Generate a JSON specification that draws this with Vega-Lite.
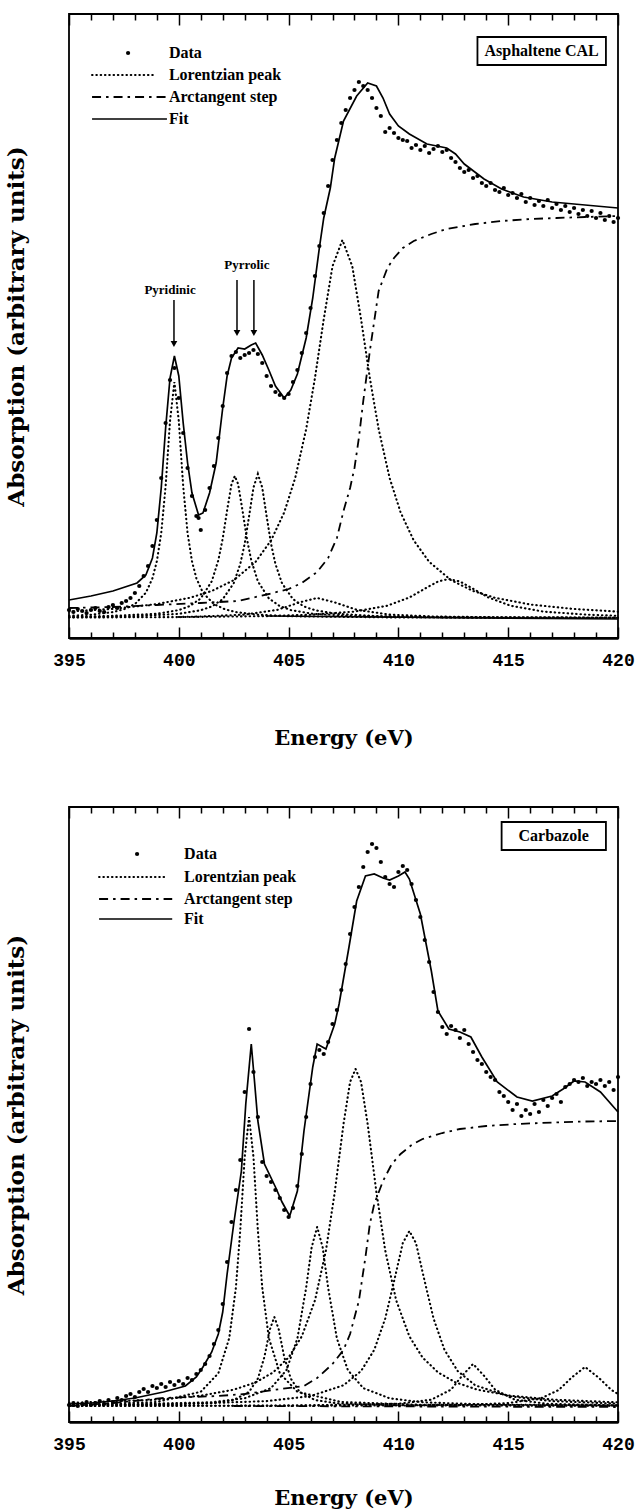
{
"$schema": "https://vega.github.io/schema/vega-lite/v6.json",
"padding": {"left": 4, "top": 12, "right": 0, "bottom": 0},
"spacing": 56,
"config": {"view": {"stroke": "#000", "strokeWidth": 1.8}, "axis": {"grid": false, "tickColor": "#000", "domainColor": "#000", "labelColor": "#000", "titleColor": "#000", "tickWidth": 1.5}},
"datasets": {
"tLor": [
{"p":"L1","E":395,"h":22.1},{"p":"L1","E":396,"h":23.3},{"p":"L1","E":397,"h":25.9},{"p":"L1","E":397.5,"h":28.7},{"p":"L1","E":398,"h":33.9},{"p":"L1","E":398.5,"h":45.2},{"p":"L1","E":398.8,"h":59.7},{"p":"L1","E":399.0,"h":76.7},{"p":"L1","E":399.2,"h":104.9},{"p":"L1","E":399.4,"h":151.8},{"p":"L1","E":399.6,"h":217},{"p":"L1","E":399.8,"h":256},{"p":"L1","E":400.0,"h":217},{"p":"L1","E":400.2,"h":151.8},{"p":"L1","E":400.4,"h":104.9},{"p":"L1","E":400.6,"h":76.7},{"p":"L1","E":400.8,"h":59.7},{"p":"L1","E":401.1,"h":45.2},{"p":"L1","E":401.6,"h":33.9},{"p":"L1","E":402.1,"h":28.7},{"p":"L1","E":402.6,"h":25.9},{"p":"L1","E":403.6,"h":23.3},{"p":"L1","E":405,"h":21.8},{"p":"L1","E":410,"h":20.5},{"p":"L1","E":420,"h":20.1},
{"p":"L2","E":395,"h":21},{"p":"L2","E":397,"h":22.2},{"p":"L2","E":399,"h":24.2},{"p":"L2","E":400,"h":27.9},{"p":"L2","E":400.5,"h":31.9},{"p":"L2","E":401,"h":39.6},{"p":"L2","E":401.5,"h":56.7},{"p":"L2","E":401.8,"h":77.7},{"p":"L2","E":402.0,"h":99.5},{"p":"L2","E":402.2,"h":127.7},{"p":"L2","E":402.4,"h":154},{"p":"L2","E":402.55,"h":162},{"p":"L2","E":402.7,"h":154},{"p":"L2","E":402.9,"h":127.7},{"p":"L2","E":403.1,"h":99.5},{"p":"L2","E":403.3,"h":77.7},{"p":"L2","E":403.6,"h":56.7},{"p":"L2","E":404.1,"h":39.6},{"p":"L2","E":404.6,"h":31.9},{"p":"L2","E":405.1,"h":27.9},{"p":"L2","E":406.1,"h":24.2},{"p":"L2","E":408,"h":21.8},{"p":"L2","E":412,"h":20.6},{"p":"L2","E":420,"h":20.2},
{"p":"L3","E":395,"h":20.7},{"p":"L3","E":398,"h":21.7},{"p":"L3","E":400,"h":24.2},{"p":"L3","E":401,"h":27.8},{"p":"L3","E":401.5,"h":31.5},{"p":"L3","E":402,"h":38.8},{"p":"L3","E":402.5,"h":54.7},{"p":"L3","E":402.8,"h":74.1},{"p":"L3","E":403.0,"h":94.3},{"p":"L3","E":403.2,"h":121.7},{"p":"L3","E":403.4,"h":150.4},{"p":"L3","E":403.6,"h":164},{"p":"L3","E":403.8,"h":150.4},{"p":"L3","E":404.0,"h":121.7},{"p":"L3","E":404.2,"h":94.3},{"p":"L3","E":404.4,"h":74.1},{"p":"L3","E":404.7,"h":54.7},{"p":"L3","E":405.2,"h":38.8},{"p":"L3","E":405.7,"h":31.5},{"p":"L3","E":406.2,"h":27.8},{"p":"L3","E":407.2,"h":24.2},{"p":"L3","E":409,"h":21.9},{"p":"L3","E":413,"h":20.6},{"p":"L3","E":420,"h":20.2},
{"p":"L4","E":395,"h":26.5},{"p":"L4","E":397,"h":29.2},{"p":"L4","E":399,"h":33.9},{"p":"L4","E":400.5,"h":40.2},{"p":"L4","E":401.5,"h":47.0},{"p":"L4","E":402.5,"h":57.8},{"p":"L4","E":403.5,"h":76.2},{"p":"L4","E":404.2,"h":97.5},{"p":"L4","E":404.8,"h":125.6},{"p":"L4","E":405.3,"h":160},{"p":"L4","E":405.8,"h":209},{"p":"L4","E":406.2,"h":260},{"p":"L4","E":406.6,"h":318.8},{"p":"L4","E":407.0,"h":371.8},{"p":"L4","E":407.45,"h":398},{"p":"L4","E":407.9,"h":371.8},{"p":"L4","E":408.3,"h":318.8},{"p":"L4","E":408.7,"h":260},{"p":"L4","E":409.1,"h":209},{"p":"L4","E":409.6,"h":160},{"p":"L4","E":410.1,"h":125.6},{"p":"L4","E":410.7,"h":97.5},{"p":"L4","E":411.4,"h":76.2},{"p":"L4","E":412.4,"h":57.8},{"p":"L4","E":413.4,"h":47.0},{"p":"L4","E":414.4,"h":40.2},{"p":"L4","E":416.0,"h":33.5},{"p":"L4","E":418.0,"h":29.0},{"p":"L4","E":420,"h":26.4},
{"p":"L5","E":395,"h":20.5},{"p":"L5","E":400,"h":20.9},{"p":"L5","E":404,"h":21.9},{"p":"L5","E":406,"h":23.3},{"p":"L5","E":408,"h":26.4},{"p":"L5","E":409.5,"h":32.3},{"p":"L5","E":410.5,"h":40.5},{"p":"L5","E":411.3,"h":50.5},{"p":"L5","E":411.8,"h":56.5},{"p":"L5","E":412.3,"h":59},{"p":"L5","E":412.8,"h":56.5},{"p":"L5","E":413.3,"h":50.5},{"p":"L5","E":414.1,"h":40.5},{"p":"L5","E":415.1,"h":32.3},{"p":"L5","E":416.6,"h":26.4},{"p":"L5","E":418.6,"h":23.3},{"p":"L5","E":420,"h":22.2},
{"p":"L6","E":400,"h":21.0},{"p":"L6","E":401,"h":21.5},{"p":"L6","E":403,"h":23.4},{"p":"L6","E":404.5,"h":28.2},{"p":"L6","E":405.5,"h":35.6},{"p":"L6","E":406.3,"h":40},{"p":"L6","E":407.1,"h":35.6},{"p":"L6","E":408.1,"h":28.2},{"p":"L6","E":409.6,"h":23.4},{"p":"L6","E":411.6,"h":21.5},{"p":"L6","E":415,"h":20.6},{"p":"L6","E":420,"h":20.2},
{"p":"leg","E":396.05,"h":563},{"p":"leg","E":398.92,"h":563}
],
"tArc": [
{"g":"a","E":395,"h":30},{"g":"a","E":397,"h":31},{"g":"a","E":399,"h":33},{"g":"a","E":401,"h":35},{"g":"a","E":402.7,"h":37},{"g":"a","E":404.1,"h":44},{"g":"a","E":405.0,"h":49},{"g":"a","E":405.6,"h":55},{"g":"a","E":406.3,"h":66},{"g":"a","E":406.8,"h":80},{"g":"a","E":407.2,"h":100},{"g":"a","E":407.5,"h":127},{"g":"a","E":407.8,"h":150},{"g":"a","E":408.0,"h":170},{"g":"a","E":408.2,"h":200},{"g":"a","E":408.4,"h":237},{"g":"a","E":408.7,"h":287},{"g":"a","E":409.1,"h":347},{"g":"a","E":409.5,"h":370},{"g":"a","E":409.8,"h":380},{"g":"a","E":410.2,"h":390},{"g":"a","E":410.7,"h":397},{"g":"a","E":411.5,"h":404},{"g":"a","E":412.2,"h":409},{"g":"a","E":413.5,"h":414},{"g":"a","E":414.7,"h":417},{"g":"a","E":416,"h":419},{"g":"a","E":417.2,"h":420},{"g":"a","E":418.5,"h":421},{"g":"a","E":420,"h":422},
{"g":"leg","E":396.05,"h":541},{"g":"leg","E":399.46,"h":541}
],
"tFit": [
{"g":"f","E":395,"h":38},{"g":"f","E":396,"h":42},{"g":"f","E":397,"h":47},{"g":"f","E":398.1,"h":55},{"g":"f","E":398.5,"h":63},{"g":"f","E":398.8,"h":80},{"g":"f","E":399.0,"h":105},{"g":"f","E":399.2,"h":150},{"g":"f","E":399.4,"h":210},{"g":"f","E":399.6,"h":260},{"g":"f","E":399.8,"h":282},{"g":"f","E":400.0,"h":262},{"g":"f","E":400.2,"h":215},{"g":"f","E":400.4,"h":175},{"g":"f","E":400.6,"h":145},{"g":"f","E":400.9,"h":123},{"g":"f","E":401.1,"h":125},{"g":"f","E":401.4,"h":145},{"g":"f","E":401.7,"h":175},{"g":"f","E":402.0,"h":230},{"g":"f","E":402.2,"h":262},{"g":"f","E":402.4,"h":280},{"g":"f","E":402.7,"h":290},{"g":"f","E":403.0,"h":289},{"g":"f","E":403.3,"h":293},{"g":"f","E":403.5,"h":295},{"g":"f","E":403.8,"h":283},{"g":"f","E":404.1,"h":268},{"g":"f","E":404.4,"h":252},{"g":"f","E":404.8,"h":240},{"g":"f","E":405.1,"h":248},{"g":"f","E":405.4,"h":264},{"g":"f","E":405.8,"h":300},{"g":"f","E":406.1,"h":340},{"g":"f","E":406.4,"h":390},{"g":"f","E":406.6,"h":420},{"g":"f","E":406.9,"h":450},{"g":"f","E":407.1,"h":480},{"g":"f","E":407.5,"h":517},{"g":"f","E":408.1,"h":542},{"g":"f","E":408.6,"h":555},{"g":"f","E":409.0,"h":552},{"g":"f","E":409.3,"h":540},{"g":"f","E":409.6,"h":524},{"g":"f","E":410.0,"h":512},{"g":"f","E":410.5,"h":504},{"g":"f","E":411.3,"h":494},{"g":"f","E":412.2,"h":490},{"g":"f","E":412.6,"h":484},{"g":"f","E":413.0,"h":474},{"g":"f","E":413.9,"h":459},{"g":"f","E":414.7,"h":449},{"g":"f","E":415.7,"h":441},{"g":"f","E":417.0,"h":436},{"g":"f","E":418.0,"h":434},{"g":"f","E":419.0,"h":432},{"g":"f","E":420,"h":430},
{"g":"bg","E":404,"h":22},{"g":"bg","E":420,"h":19},
{"g":"leg","E":396.05,"h":519},{"g":"leg","E":399.46,"h":519}
],
"tPts": [
{"E":395.0,"h":28},{"E":395.2,"h":26},{"E":395.4,"h":29},{"E":395.6,"h":27},{"E":395.8,"h":25},{"E":396.0,"h":28},{"E":396.2,"h":30},{"E":396.4,"h":27},{"E":396.6,"h":26},{"E":396.8,"h":31},{"E":397.0,"h":33},{"E":397.2,"h":30},{"E":397.4,"h":35},{"E":397.6,"h":37},{"E":397.8,"h":40},{"E":398.0,"h":45},{"E":398.2,"h":52},{"E":398.4,"h":62},{"E":398.6,"h":72},{"E":398.8,"h":92},{"E":399.0,"h":118},{"E":399.2,"h":160},{"E":399.4,"h":215},{"E":399.6,"h":258},{"E":399.8,"h":270},{"E":400.0,"h":240},{"E":400.2,"h":205},{"E":400.4,"h":170},{"E":400.6,"h":142},{"E":400.8,"h":122},{"E":400.9,"h":120},{"E":401.0,"h":108},{"E":401.2,"h":128},{"E":401.4,"h":150},{"E":401.6,"h":172},{"E":401.8,"h":200},{"E":402.0,"h":232},{"E":402.2,"h":265},{"E":402.4,"h":282},{"E":402.6,"h":286},{"E":402.8,"h":280},{"E":403.0,"h":283},{"E":403.2,"h":285},{"E":403.4,"h":288},{"E":403.6,"h":284},{"E":403.8,"h":275},{"E":404.0,"h":262},{"E":404.2,"h":252},{"E":404.4,"h":246},{"E":404.6,"h":243},{"E":404.8,"h":240},{"E":405.0,"h":244},{"E":405.2,"h":256},{"E":405.4,"h":268},{"E":405.6,"h":285},{"E":405.8,"h":305},{"E":406.0,"h":330},{"E":406.2,"h":362},{"E":406.4,"h":392},{"E":406.6,"h":425},{"E":406.8,"h":452},{"E":407.0,"h":478},{"E":407.2,"h":498},{"E":407.4,"h":515},{"E":407.6,"h":528},{"E":407.8,"h":540},{"E":408.0,"h":548},{"E":408.2,"h":556},{"E":408.4,"h":552},{"E":408.6,"h":548},{"E":408.8,"h":540},{"E":409.0,"h":530},{"E":409.2,"h":522},{"E":409.4,"h":506},{"E":409.6,"h":510},{"E":409.8,"h":505},{"E":410.0,"h":500},{"E":410.2,"h":498},{"E":410.4,"h":497},{"E":410.6,"h":490},{"E":410.8,"h":493},{"E":411.0,"h":488},{"E":411.2,"h":492},{"E":411.4,"h":485},{"E":411.6,"h":489},{"E":411.8,"h":492},{"E":412.0,"h":486},{"E":412.2,"h":488},{"E":412.4,"h":480},{"E":412.6,"h":476},{"E":412.8,"h":470},{"E":413.0,"h":466},{"E":413.2,"h":468},{"E":413.4,"h":460},{"E":413.6,"h":462},{"E":413.8,"h":455},{"E":414.0,"h":452},{"E":414.2,"h":455},{"E":414.4,"h":448},{"E":414.6,"h":446},{"E":414.8,"h":450},{"E":415.0,"h":443},{"E":415.2,"h":445},{"E":415.4,"h":440},{"E":415.6,"h":444},{"E":415.8,"h":436},{"E":416.0,"h":440},{"E":416.2,"h":433},{"E":416.4,"h":437},{"E":416.6,"h":432},{"E":416.8,"h":438},{"E":417.0,"h":430},{"E":417.2,"h":434},{"E":417.4,"h":428},{"E":417.6,"h":432},{"E":417.8,"h":426},{"E":418.0,"h":430},{"E":418.2,"h":424},{"E":418.4,"h":428},{"E":418.6,"h":422},{"E":418.8,"h":427},{"E":419.0,"h":420},{"E":419.2,"h":425},{"E":419.4,"h":418},{"E":419.6,"h":422},{"E":419.8,"h":416},{"E":420.0,"h":420},
{"E":397.69,"h":585}
],
"tLegT": [
{"E":399.55,"h":585,"t":"Data"},{"E":399.55,"h":563,"t":"Lorentzian peak"},{"E":399.55,"h":541,"t":"Arctangent step"},{"E":399.55,"h":519,"t":"Fit"}
],
"tArr": [
{"E":399.78,"h1":338,"h2":296},{"E":402.65,"h1":358,"h2":308},{"E":403.42,"h1":358,"h2":308}
],
"tHead": [
{"E":399.78,"h":294},{"E":402.65,"h":305},{"E":403.42,"h":305}
],
"tAnn": [
{"E":399.6,"h":348,"t":"Pyridinic"},{"E":403.1,"h":373,"t":"Pyrrolic"}
],
"tBox": [
{"E1":413.6,"E2":419.45,"h1":573,"h2":601,"Ec":416.52,"hc":587,"t":"Asphaltene  CAL"}
],
"bLor": [
{"p":"B1","E":395,"h":17.1},{"p":"B1","E":399,"h":20.0},{"p":"B1","E":401,"h":30.2},{"p":"B1","E":401.8,"h":48.7},{"p":"B1","E":402.3,"h":84.2},{"p":"B1","E":402.6,"h":134.4},{"p":"B1","E":402.8,"h":192},{"p":"B1","E":403.0,"h":265},{"p":"B1","E":403.2,"h":305},{"p":"B1","E":403.4,"h":265},{"p":"B1","E":403.6,"h":192},{"p":"B1","E":403.8,"h":134.4},{"p":"B1","E":404.1,"h":84.2},{"p":"B1","E":404.6,"h":48.7},{"p":"B1","E":405.4,"h":30.2},{"p":"B1","E":407.4,"h":20.0},{"p":"B1","E":411,"h":17.2},{"p":"B1","E":420,"h":16.5},
{"p":"B2","E":395,"h":16.5},{"p":"B2","E":399,"h":17.5},{"p":"B2","E":401.5,"h":18.7},{"p":"B2","E":402.5,"h":22},{"p":"B2","E":403.2,"h":30.1},{"p":"B2","E":403.6,"h":43.4},{"p":"B2","E":403.9,"h":65.2},{"p":"B2","E":404.15,"h":92.7},{"p":"B2","E":404.35,"h":105},{"p":"B2","E":404.55,"h":92.7},{"p":"B2","E":404.8,"h":65.2},{"p":"B2","E":405.1,"h":43.4},{"p":"B2","E":405.5,"h":30.1},{"p":"B2","E":406.2,"h":22},{"p":"B2","E":407.2,"h":18.7},{"p":"B2","E":410,"h":16.7},{"p":"B2","E":420,"h":16.2},
{"p":"B3","E":395,"h":16.7},{"p":"B3","E":398,"h":18},{"p":"B3","E":401.5,"h":19.7},{"p":"B3","E":403,"h":23.7},{"p":"B3","E":404.2,"h":33.9},{"p":"B3","E":404.9,"h":51.8},{"p":"B3","E":405.4,"h":83.5},{"p":"B3","E":405.8,"h":134.5},{"p":"B3","E":406.05,"h":174.7},{"p":"B3","E":406.3,"h":195},{"p":"B3","E":406.55,"h":174.7},{"p":"B3","E":406.8,"h":134.5},{"p":"B3","E":407.2,"h":83.5},{"p":"B3","E":407.7,"h":51.8},{"p":"B3","E":408.4,"h":33.9},{"p":"B3","E":409.6,"h":23.7},{"p":"B3","E":411.1,"h":19.7},{"p":"B3","E":414,"h":17.5},{"p":"B3","E":420,"h":16.6},
{"p":"B4","E":395,"h":19.1},{"p":"B4","E":399,"h":22.3},{"p":"B4","E":401,"h":26.3},{"p":"B4","E":402.5,"h":32.3},{"p":"B4","E":403.5,"h":39.6},{"p":"B4","E":404.3,"h":49.7},{"p":"B4","E":405.0,"h":64.5},{"p":"B4","E":405.6,"h":85.6},{"p":"B4","E":406.2,"h":121.6},{"p":"B4","E":406.7,"h":171.6},{"p":"B4","E":407.1,"h":229.6},{"p":"B4","E":407.5,"h":298},{"p":"B4","E":407.8,"h":340},{"p":"B4","E":408.05,"h":353},{"p":"B4","E":408.3,"h":340},{"p":"B4","E":408.6,"h":298},{"p":"B4","E":409.0,"h":229.6},{"p":"B4","E":409.4,"h":171.6},{"p":"B4","E":409.9,"h":121.6},{"p":"B4","E":410.5,"h":85.6},{"p":"B4","E":411.1,"h":64.5},{"p":"B4","E":411.8,"h":49.7},{"p":"B4","E":412.6,"h":39.6},{"p":"B4","E":413.6,"h":32.3},{"p":"B4","E":415.1,"h":26.3},{"p":"B4","E":417.1,"h":22.3},{"p":"B4","E":420,"h":19.65},
{"p":"B5","E":395,"h":16.8},{"p":"B5","E":400,"h":17.8},{"p":"B5","E":404,"h":20.9},{"p":"B5","E":406,"h":25.9},{"p":"B5","E":407.5,"h":36.7},{"p":"B5","E":408.3,"h":51},{"p":"B5","E":408.9,"h":72.1},{"p":"B5","E":409.4,"h":103.5},{"p":"B5","E":409.8,"h":140.5},{"p":"B5","E":410.2,"h":178.9},{"p":"B5","E":410.5,"h":191},{"p":"B5","E":410.8,"h":178.9},{"p":"B5","E":411.2,"h":140.5},{"p":"B5","E":411.6,"h":103.5},{"p":"B5","E":412.1,"h":72.1},{"p":"B5","E":412.7,"h":51},{"p":"B5","E":413.5,"h":36.7},{"p":"B5","E":415,"h":25.9},{"p":"B5","E":417,"h":20.9},{"p":"B5","E":420,"h":18.3},
{"p":"B6","E":395,"h":16.1},{"p":"B6","E":405,"h":16.4},{"p":"B6","E":410,"h":18.2},{"p":"B6","E":411.5,"h":22.3},{"p":"B6","E":412.4,"h":32.4},{"p":"B6","E":412.9,"h":46.2},{"p":"B6","E":413.4,"h":58},{"p":"B6","E":413.9,"h":46.2},{"p":"B6","E":414.4,"h":32.4},{"p":"B6","E":415.3,"h":22.3},{"p":"B6","E":416.8,"h":18.2},{"p":"B6","E":420,"h":16.6},
{"p":"B7","E":395,"h":16},{"p":"B7","E":410,"h":16.5},{"p":"B7","E":413,"h":17.2},{"p":"B7","E":415,"h":18.9},{"p":"B7","E":416.5,"h":23.8},{"p":"B7","E":417.3,"h":32},{"p":"B7","E":417.9,"h":44.7},{"p":"B7","E":418.5,"h":55},{"p":"B7","E":419.1,"h":44.7},{"p":"B7","E":419.7,"h":32},{"p":"B7","E":420,"h":28},
{"p":"leg","E":396.37,"h":545},{"p":"leg","E":399.46,"h":545}
],
"bArc": [
{"g":"a","E":395,"h":16},{"g":"a","E":397,"h":19},{"g":"a","E":399.3,"h":24},{"g":"a","E":401.8,"h":26},{"g":"a","E":403,"h":28},{"g":"a","E":404.3,"h":32},{"g":"a","E":405.7,"h":36},{"g":"a","E":406.3,"h":44},{"g":"a","E":407.0,"h":58},{"g":"a","E":407.5,"h":72},{"g":"a","E":407.8,"h":88},{"g":"a","E":408.2,"h":121},{"g":"a","E":408.5,"h":165},{"g":"a","E":408.7,"h":198},{"g":"a","E":408.9,"h":218},{"g":"a","E":409.3,"h":241},{"g":"a","E":409.7,"h":258},{"g":"a","E":410.1,"h":268},{"g":"a","E":410.6,"h":277},{"g":"a","E":411.1,"h":283},{"g":"a","E":412,"h":289},{"g":"a","E":412.8,"h":293},{"g":"a","E":414,"h":296},{"g":"a","E":415.4,"h":298},{"g":"a","E":417,"h":299.5},{"g":"a","E":418.5,"h":300.5},{"g":"a","E":420,"h":301},
{"g":"bg","E":402.5,"h":16},{"g":"bg","E":420,"h":15},
{"g":"leg","E":396.37,"h":523},{"g":"leg","E":399.7,"h":523}
],
"bFit": [
{"g":"f","E":395,"h":18},{"g":"f","E":396,"h":19},{"g":"f","E":397,"h":21},{"g":"f","E":398,"h":24},{"g":"f","E":399.3,"h":30},{"g":"f","E":400.3,"h":36},{"g":"f","E":400.8,"h":45},{"g":"f","E":401.1,"h":55},{"g":"f","E":401.5,"h":70},{"g":"f","E":401.8,"h":88},{"g":"f","E":402.0,"h":110},{"g":"f","E":402.2,"h":148},{"g":"f","E":402.5,"h":198},{"g":"f","E":402.85,"h":251},{"g":"f","E":403.05,"h":318},{"g":"f","E":403.3,"h":378},{"g":"f","E":403.45,"h":340},{"g":"f","E":403.6,"h":301},{"g":"f","E":403.9,"h":258},{"g":"f","E":404.4,"h":235},{"g":"f","E":404.7,"h":220},{"g":"f","E":405.05,"h":206},{"g":"f","E":405.4,"h":231},{"g":"f","E":405.7,"h":291},{"g":"f","E":406.1,"h":355},{"g":"f","E":406.3,"h":378},{"g":"f","E":406.7,"h":373},{"g":"f","E":407.1,"h":398},{"g":"f","E":407.3,"h":418},{"g":"f","E":407.75,"h":475},{"g":"f","E":408.1,"h":521},{"g":"f","E":408.5,"h":546},{"g":"f","E":408.9,"h":548},{"g":"f","E":409.3,"h":544},{"g":"f","E":409.6,"h":542},{"g":"f","E":410.0,"h":546},{"g":"f","E":410.3,"h":550},{"g":"f","E":410.5,"h":543},{"g":"f","E":411.0,"h":508},{"g":"f","E":411.5,"h":451},{"g":"f","E":411.8,"h":411},{"g":"f","E":412.3,"h":393},{"g":"f","E":412.8,"h":390},{"g":"f","E":413.3,"h":385},{"g":"f","E":413.8,"h":365},{"g":"f","E":414.5,"h":340},{"g":"f","E":415.4,"h":325},{"g":"f","E":416.1,"h":321},{"g":"f","E":417.0,"h":326},{"g":"f","E":417.5,"h":333},{"g":"f","E":418.0,"h":341},{"g":"f","E":418.5,"h":340},{"g":"f","E":419.2,"h":330},{"g":"f","E":420,"h":310},
{"g":"leg","E":396.37,"h":503},{"g":"leg","E":399.7,"h":503}
],
"bPts": [
{"E":395.0,"h":17},{"E":395.2,"h":19},{"E":395.4,"h":16},{"E":395.6,"h":18},{"E":395.8,"h":20},{"E":396.0,"h":17},{"E":396.2,"h":19},{"E":396.4,"h":21},{"E":396.6,"h":18},{"E":396.8,"h":22},{"E":397.0,"h":20},{"E":397.2,"h":24},{"E":397.4,"h":22},{"E":397.6,"h":26},{"E":397.8,"h":28},{"E":398.0,"h":25},{"E":398.2,"h":30},{"E":398.4,"h":33},{"E":398.6,"h":30},{"E":398.8,"h":36},{"E":399.0,"h":34},{"E":399.2,"h":38},{"E":399.4,"h":35},{"E":399.6,"h":40},{"E":399.8,"h":37},{"E":400.0,"h":41},{"E":400.2,"h":38},{"E":400.4,"h":44},{"E":400.6,"h":42},{"E":400.8,"h":48},{"E":401.0,"h":52},{"E":401.2,"h":58},{"E":401.4,"h":66},{"E":401.6,"h":78},{"E":401.8,"h":92},{"E":402.0,"h":118},{"E":402.2,"h":160},{"E":402.4,"h":200},{"E":402.6,"h":232},{"E":402.8,"h":262},{"E":403.0,"h":330},{"E":403.2,"h":393},{"E":403.4,"h":350},{"E":403.6,"h":305},{"E":403.8,"h":260},{"E":404.0,"h":246},{"E":404.2,"h":240},{"E":404.4,"h":232},{"E":404.6,"h":224},{"E":404.8,"h":212},{"E":405.0,"h":205},{"E":405.2,"h":214},{"E":405.4,"h":236},{"E":405.6,"h":268},{"E":405.8,"h":305},{"E":406.0,"h":338},{"E":406.2,"h":365},{"E":406.4,"h":372},{"E":406.6,"h":368},{"E":406.8,"h":380},{"E":407.0,"h":398},{"E":407.2,"h":412},{"E":407.4,"h":432},{"E":407.6,"h":458},{"E":407.8,"h":488},{"E":408.0,"h":515},{"E":408.2,"h":535},{"E":408.4,"h":555},{"E":408.6,"h":570},{"E":408.8,"h":578},{"E":409.0,"h":574},{"E":409.2,"h":560},{"E":409.4,"h":545},{"E":409.6,"h":538},{"E":409.8,"h":535},{"E":410.0,"h":550},{"E":410.2,"h":556},{"E":410.4,"h":552},{"E":410.6,"h":538},{"E":410.8,"h":522},{"E":411.0,"h":505},{"E":411.2,"h":482},{"E":411.4,"h":460},{"E":411.6,"h":430},{"E":411.8,"h":410},{"E":412.0,"h":395},{"E":412.2,"h":388},{"E":412.4,"h":396},{"E":412.6,"h":392},{"E":412.8,"h":384},{"E":413.0,"h":392},{"E":413.2,"h":378},{"E":413.4,"h":370},{"E":413.6,"h":362},{"E":413.8,"h":358},{"E":414.0,"h":350},{"E":414.2,"h":345},{"E":414.4,"h":342},{"E":414.6,"h":330},{"E":414.8,"h":326},{"E":415.0,"h":320},{"E":415.2,"h":312},{"E":415.4,"h":318},{"E":415.6,"h":306},{"E":415.8,"h":312},{"E":416.0,"h":308},{"E":416.2,"h":318},{"E":416.4,"h":310},{"E":416.6,"h":322},{"E":416.8,"h":316},{"E":417.0,"h":324},{"E":417.2,"h":328},{"E":417.4,"h":320},{"E":417.6,"h":335},{"E":417.8,"h":338},{"E":418.0,"h":342},{"E":418.2,"h":340},{"E":418.4,"h":344},{"E":418.6,"h":336},{"E":418.8,"h":340},{"E":419.0,"h":338},{"E":419.2,"h":342},{"E":419.4,"h":336},{"E":419.6,"h":340},{"E":419.8,"h":332},{"E":420.0,"h":345},
{"E":398.1,"h":568}
],
"bLegT": [
{"E":400.24,"h":568,"t":"Data"},{"E":400.24,"h":545,"t":"Lorentzian peak"},{"E":400.24,"h":523,"t":"Arctangent step"},{"E":400.24,"h":503,"t":"Fit"}
],
"bBox": [
{"E1":414.7,"E2":419.45,"h1":572,"h2":600,"Ec":417.07,"hc":586,"t":"Carbazole"}
]
},
"vconcat": [
{
"width": 549, "height": 624,
"resolve": {"scale": {"x": "independent"}, "axis": {"x": "independent", "y": "independent"}},
"layer": [
{"data": {"name": "tLor"}, "mark": {"type": "line", "strokeDash": [0.5, 3.8], "strokeCap": "round", "strokeWidth": 2.1, "color": "#000"},
 "encoding": {"x": {"field": "E", "type": "quantitative", "scale": {"domain": [395, 420], "nice": false, "zero": false},
   "axis": {"orient": "bottom", "values": [395, 400, 405, 410, 415, 420], "ticks": false, "domain": true, "domainWidth": 2.5, "labelFont": "Liberation Mono", "labelFontWeight": "bold", "labelFontSize": 18, "labelPadding": 13, "labelFlush": false, "labelOverlap": false, "title": "Energy  (eV)", "titleFont": "DejaVu Serif", "titleFontSize": 21, "titleFontWeight": "bold", "titlePadding": 58}},
  "y": {"field": "h", "type": "quantitative", "scale": {"domain": [0, 624], "nice": false, "zero": false},
   "axis": {"title": "Absorption  (arbitrary  units)", "labels": false, "ticks": false, "domain": false, "titleFont": "DejaVu Serif", "titleFontSize": 23, "titleFontWeight": "bold", "titlePadding": 41}},
  "detail": {"field": "p"}}},
{"data": {"name": "tArc"}, "mark": {"type": "line", "strokeDash": [9, 5, 2.5, 5], "strokeWidth": 1.8, "color": "#000"},
 "encoding": {"x": {"field": "E", "type": "quantitative", "scale": {"domain": [395, 420], "nice": false, "zero": false},
   "axis": {"orient": "top", "values": [395, 400, 405, 410, 415, 420], "tickSize": 11, "offset": -11, "labels": false, "domain": false, "title": null}},
  "y": {"field": "h", "type": "quantitative", "scale": {"domain": [0, 624], "nice": false, "zero": false}, "axis": null},
  "detail": {"field": "g"}}},
{"data": {"name": "tFit"}, "mark": {"type": "line", "strokeWidth": 1.7, "color": "#000"},
 "encoding": {"x": {"field": "E", "type": "quantitative", "scale": {"domain": [395, 420], "nice": false, "zero": false},
   "axis": {"orient": "top", "values": [396,397,398,399,401,402,403,404,406,407,408,409,411,412,413,414,416,417,418,419], "tickSize": 6, "offset": -6, "labels": false, "domain": false, "title": null}},
  "y": {"field": "h", "type": "quantitative", "scale": {"domain": [0, 624], "nice": false, "zero": false}, "axis": null},
  "detail": {"field": "g"}}},
{"data": {"name": "tPts"}, "mark": {"type": "point", "filled": true, "size": 18, "color": "#000", "opacity": 1},
 "encoding": {"x": {"field": "E", "type": "quantitative", "scale": {"domain": [395, 420], "nice": false, "zero": false},
   "axis": {"orient": "bottom", "values": [395, 400, 405, 410, 415, 420], "tickSize": 11, "offset": -11, "labels": false, "domain": false, "title": null}},
  "y": {"field": "h", "type": "quantitative", "scale": {"domain": [0, 624], "nice": false, "zero": false}, "axis": null}}},
{"data": {"name": "tLegT"}, "mark": {"type": "text", "align": "left", "baseline": "middle", "font": "Liberation Serif", "fontWeight": "bold", "fontSize": 16, "color": "#000"},
 "encoding": {"x": {"field": "E", "type": "quantitative", "scale": {"domain": [395, 420], "nice": false, "zero": false},
   "axis": {"orient": "bottom", "values": [396,397,398,399,401,402,403,404,406,407,408,409,411,412,413,414,416,417,418,419], "tickSize": 6, "offset": -6, "labels": false, "domain": false, "title": null}},
  "y": {"field": "h", "type": "quantitative", "scale": {"domain": [0, 624], "nice": false, "zero": false}, "axis": null},
  "text": {"field": "t"}}},
{"data": {"name": "tArr"}, "mark": {"type": "rule", "strokeWidth": 1.5, "color": "#000"},
 "encoding": {"x": {"field": "E", "type": "quantitative", "scale": {"domain": [395, 420], "nice": false, "zero": false}, "axis": null},
  "y": {"field": "h1", "type": "quantitative", "scale": {"domain": [0, 624], "nice": false, "zero": false}, "axis": null},
  "y2": {"field": "h2"}}},
{"data": {"name": "tHead"}, "mark": {"type": "point", "shape": "triangle-down", "filled": true, "size": 45, "color": "#000", "opacity": 1},
 "encoding": {"x": {"field": "E", "type": "quantitative", "scale": {"domain": [395, 420], "nice": false, "zero": false}, "axis": null},
  "y": {"field": "h", "type": "quantitative", "scale": {"domain": [0, 624], "nice": false, "zero": false}, "axis": null}}},
{"data": {"name": "tAnn"}, "mark": {"type": "text", "align": "center", "baseline": "middle", "font": "Liberation Serif", "fontWeight": "bold", "fontSize": 13, "color": "#000"},
 "encoding": {"x": {"field": "E", "type": "quantitative", "scale": {"domain": [395, 420], "nice": false, "zero": false}, "axis": null},
  "y": {"field": "h", "type": "quantitative", "scale": {"domain": [0, 624], "nice": false, "zero": false}, "axis": null},
  "text": {"field": "t"}}},
{"data": {"name": "tBox"}, "mark": {"type": "rect", "fill": "#fff", "stroke": "#000", "strokeWidth": 1.8},
 "encoding": {"x": {"field": "E1", "type": "quantitative", "scale": {"domain": [395, 420], "nice": false, "zero": false}, "axis": null},
  "x2": {"field": "E2"},
  "y": {"field": "h1", "type": "quantitative", "scale": {"domain": [0, 624], "nice": false, "zero": false}, "axis": null},
  "y2": {"field": "h2"}}},
{"data": {"name": "tBox"}, "mark": {"type": "text", "align": "center", "baseline": "middle", "font": "Liberation Serif", "fontWeight": "bold", "fontSize": 16, "color": "#000"},
 "encoding": {"x": {"field": "Ec", "type": "quantitative", "scale": {"domain": [395, 420], "nice": false, "zero": false}, "axis": null},
  "y": {"field": "hc", "type": "quantitative", "scale": {"domain": [0, 624], "nice": false, "zero": false}, "axis": null},
  "text": {"field": "t"}}}
]
},
{
"width": 549, "height": 615,
"resolve": {"scale": {"x": "independent"}, "axis": {"x": "independent", "y": "independent"}},
"layer": [
{"data": {"name": "bLor"}, "mark": {"type": "line", "strokeDash": [0.5, 3.8], "strokeCap": "round", "strokeWidth": 2.1, "color": "#000"},
 "encoding": {"x": {"field": "E", "type": "quantitative", "scale": {"domain": [395, 420], "nice": false, "zero": false},
   "axis": {"orient": "bottom", "values": [395, 400, 405, 410, 415, 420], "ticks": false, "domain": true, "domainWidth": 2.5, "labelFont": "Liberation Mono", "labelFontWeight": "bold", "labelFontSize": 18, "labelPadding": 13, "labelFlush": false, "labelOverlap": false, "title": "Energy  (eV)", "titleFont": "DejaVu Serif", "titleFontSize": 21, "titleFontWeight": "bold", "titlePadding": 34}},
  "y": {"field": "h", "type": "quantitative", "scale": {"domain": [0, 615], "nice": false, "zero": false},
   "axis": {"title": "Absorption  (arbitrary  units)", "labels": false, "ticks": false, "domain": false, "titleFont": "DejaVu Serif", "titleFontSize": 23, "titleFontWeight": "bold", "titlePadding": 41}},
  "detail": {"field": "p"}}},
{"data": {"name": "bArc"}, "mark": {"type": "line", "strokeDash": [9, 5, 2.5, 5], "strokeWidth": 1.8, "color": "#000"},
 "encoding": {"x": {"field": "E", "type": "quantitative", "scale": {"domain": [395, 420], "nice": false, "zero": false},
   "axis": {"orient": "top", "values": [395, 400, 405, 410, 415, 420], "tickSize": 11, "offset": -11, "labels": false, "domain": false, "title": null}},
  "y": {"field": "h", "type": "quantitative", "scale": {"domain": [0, 615], "nice": false, "zero": false}, "axis": null},
  "detail": {"field": "g"}}},
{"data": {"name": "bFit"}, "mark": {"type": "line", "strokeWidth": 1.7, "color": "#000"},
 "encoding": {"x": {"field": "E", "type": "quantitative", "scale": {"domain": [395, 420], "nice": false, "zero": false},
   "axis": {"orient": "top", "values": [396,397,398,399,401,402,403,404,406,407,408,409,411,412,413,414,416,417,418,419], "tickSize": 6, "offset": -6, "labels": false, "domain": false, "title": null}},
  "y": {"field": "h", "type": "quantitative", "scale": {"domain": [0, 615], "nice": false, "zero": false}, "axis": null},
  "detail": {"field": "g"}}},
{"data": {"name": "bPts"}, "mark": {"type": "point", "filled": true, "size": 18, "color": "#000", "opacity": 1},
 "encoding": {"x": {"field": "E", "type": "quantitative", "scale": {"domain": [395, 420], "nice": false, "zero": false},
   "axis": {"orient": "bottom", "values": [395, 400, 405, 410, 415, 420], "tickSize": 11, "offset": -11, "labels": false, "domain": false, "title": null}},
  "y": {"field": "h", "type": "quantitative", "scale": {"domain": [0, 615], "nice": false, "zero": false}, "axis": null}}},
{"data": {"name": "bLegT"}, "mark": {"type": "text", "align": "left", "baseline": "middle", "font": "Liberation Serif", "fontWeight": "bold", "fontSize": 16, "color": "#000"},
 "encoding": {"x": {"field": "E", "type": "quantitative", "scale": {"domain": [395, 420], "nice": false, "zero": false},
   "axis": {"orient": "bottom", "values": [396,397,398,399,401,402,403,404,406,407,408,409,411,412,413,414,416,417,418,419], "tickSize": 6, "offset": -6, "labels": false, "domain": false, "title": null}},
  "y": {"field": "h", "type": "quantitative", "scale": {"domain": [0, 615], "nice": false, "zero": false}, "axis": null},
  "text": {"field": "t"}}},
{"data": {"name": "bBox"}, "mark": {"type": "rect", "fill": "#fff", "stroke": "#000", "strokeWidth": 1.8},
 "encoding": {"x": {"field": "E1", "type": "quantitative", "scale": {"domain": [395, 420], "nice": false, "zero": false}, "axis": null},
  "x2": {"field": "E2"},
  "y": {"field": "h1", "type": "quantitative", "scale": {"domain": [0, 615], "nice": false, "zero": false}, "axis": null},
  "y2": {"field": "h2"}}},
{"data": {"name": "bBox"}, "mark": {"type": "text", "align": "center", "baseline": "middle", "font": "Liberation Serif", "fontWeight": "bold", "fontSize": 16, "color": "#000"},
 "encoding": {"x": {"field": "Ec", "type": "quantitative", "scale": {"domain": [395, 420], "nice": false, "zero": false}, "axis": null},
  "y": {"field": "hc", "type": "quantitative", "scale": {"domain": [0, 615], "nice": false, "zero": false}, "axis": null},
  "text": {"field": "t"}}}
]
}
]
}
